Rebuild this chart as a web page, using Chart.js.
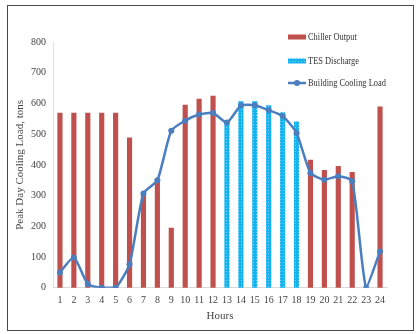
<!DOCTYPE html>
<html>
<head>
<meta charset="utf-8">
<script src="https://cdn.jsdelivr.net/npm/chart.js@4"></script>
<style>
  html, body { margin: 0; padding: 0; background: #fff; }
  #wrap { position: relative; width: 417px; height: 334px; }
  #frame {
    position: absolute; left: 7px; top: 5px; width: 405px; height: 324px;
    border: 1.5px solid #4a4a4a; pointer-events: none;
  }
  canvas { position: absolute; left: 0; top: 0; }
</style>
</head>
<body>
<div id="wrap">
  <canvas id="loadChart" width="417" height="334"></canvas>
  <div id="frame"></div>
</div>
<script>
// Peak day hourly cooling: chiller, TES discharge and building load (tons)
const hours = ['1','2','3','4','5','6','7','8','9','10','11','12',
               '13','14','15','16','17','18','19','20','21','22','23','24'];
const chillerOutput = [569, 569, 569, 569, 569, 488, 307, 350, 194, 595, 614, 624,
                       null, null, null, null, null, null, 416, 382, 395, 376, null, 589];
const tesDischarge = [null, null, null, null, null, null, null, null, null, null, null, null,
                      540, 606, 606, 593, 570, 540, null, null, null, null, null, null];
const buildingLoad = [50, 99, 12, 0, 0, 77, 307, 350, 511, 544, 564, 569,
                      538, 593, 594, 578, 559, 504, 374, 352, 363, 347, 0, 118];
const yTicks = [0, 100, 200, 300, 400, 500, 600, 700, 800];

const RED = '#c0504d';
const CYAN = '#14b2ef';
const BLUE = '#4a7ebf';
const SERIF = '"Liberation Serif", "Times New Roman", serif';

// dotted cyan fill for the storage bars
function makeDotPattern() {
    const c = document.createElement('canvas');
    c.width = 3; c.height = 3;
    const g = c.getContext('2d');
    g.fillStyle = CYAN;
    g.fillRect(0, 0, 3, 3);
    g.fillStyle = '#7ad3f6';
    g.fillRect(1, 1, 1, 1);
    return g.createPattern(c, 'repeat');
}
const tesFill = makeDotPattern();

// legend stacked inside the plot, top right
const insideLegend = {
    id: 'insideLegend',
    afterDraw(chart) {
        const ctx = chart.ctx;
        const x0 = 288, x1 = 306, tx = 308;
        const rows = [
            { y: 37, label: 'Chiller Output', kind: 'bar', fill: RED },
            { y: 61, label: 'TES Discharge', kind: 'bar', fill: tesFill },
            { y: 83, label: 'Building Cooling Load', kind: 'line', fill: BLUE }
        ];
        ctx.save();
        ctx.font = '10.5px ' + SERIF;
        ctx.textBaseline = 'middle';
        rows.forEach(r => {
            if (r.kind === 'bar') {
                ctx.fillStyle = r.fill;
                ctx.fillRect(x0, r.y - 2.5, x1 - x0, 5);
            } else {
                ctx.strokeStyle = r.fill;
                ctx.lineWidth = 2.5;
                ctx.beginPath();
                ctx.moveTo(x0, r.y);
                ctx.lineTo(x1, r.y);
                ctx.stroke();
                ctx.fillStyle = r.fill;
                ctx.beginPath();
                ctx.arc((x0 + x1) / 2, r.y, 3, 0, Math.PI * 2);
                ctx.fill();
            }
            // narrow serif face for the labels
            ctx.save();
            ctx.translate(tx, r.y);
            ctx.scale(0.8, 1);
            ctx.fillStyle = '#333';
            ctx.fillText(r.label, 0, 0);
            ctx.restore();
        });
        ctx.restore();
    }
};

new Chart(document.getElementById('loadChart'), {
    type: 'bar',
    data: {
        labels: hours,
        datasets: [
            {
                type: 'line',
                label: 'Building Cooling Load',
                data: buildingLoad,
                borderColor: BLUE,
                backgroundColor: BLUE,
                borderWidth: 2.5,
                pointRadius: 3,
                pointBackgroundColor: BLUE,
                pointBorderWidth: 0,
                tension: 0.2,
                order: 0
            },
            {
                label: 'Chiller Output',
                data: chillerOutput,
                backgroundColor: RED,
                grouped: false,
                barThickness: 4.5,
                order: 1
            },
            {
                label: 'TES Discharge',
                data: tesDischarge,
                backgroundColor: tesFill,
                grouped: false,
                barThickness: 4.5,
                order: 1
            }
        ]
    },
    options: {
        responsive: false,
        animation: false,
        layout: { padding: { left: 10, right: 30, top: 42, bottom: 11 } },
        plugins: {
            legend: { display: false },
            tooltip: { enabled: false }
        },
        scales: {
            x: {
                grid: { display: false, drawTicks: false },
                border: { display: true, color: '#d9d9d9', width: 1 },
                ticks: {
                    color: '#444',
                    font: { family: SERIF, size: 10 },
                    maxRotation: 0,
                    autoSkip: false,
                    padding: 7
                },
                title: {
                    display: true,
                    text: 'Hours',
                    color: '#444',
                    font: { family: SERIF, size: 11 },
                    padding: { top: -4, bottom: 0 }
                }
            },
            y: {
                min: 0,
                max: 800,
                afterBuildTicks(scale) {
                    scale.ticks = yTicks.map(v => ({ value: v }));
                },
                afterFit(scale) { scale.width = 43; },
                grid: { display: false, drawTicks: false },
                border: { display: true, color: '#e3e3dc', width: 1 },
                ticks: {
                    color: '#444',
                    font: { family: SERIF, size: 10 },
                    padding: 7
                },
                title: {
                    display: true,
                    text: 'Peak Day Cooling Load, tons',
                    color: '#444',
                    font: { family: SERIF, size: 11 },
                    padding: { top: 4, bottom: 4 }
                }
            }
        }
    },
    plugins: [insideLegend]
});
</script>
</body>
</html>
